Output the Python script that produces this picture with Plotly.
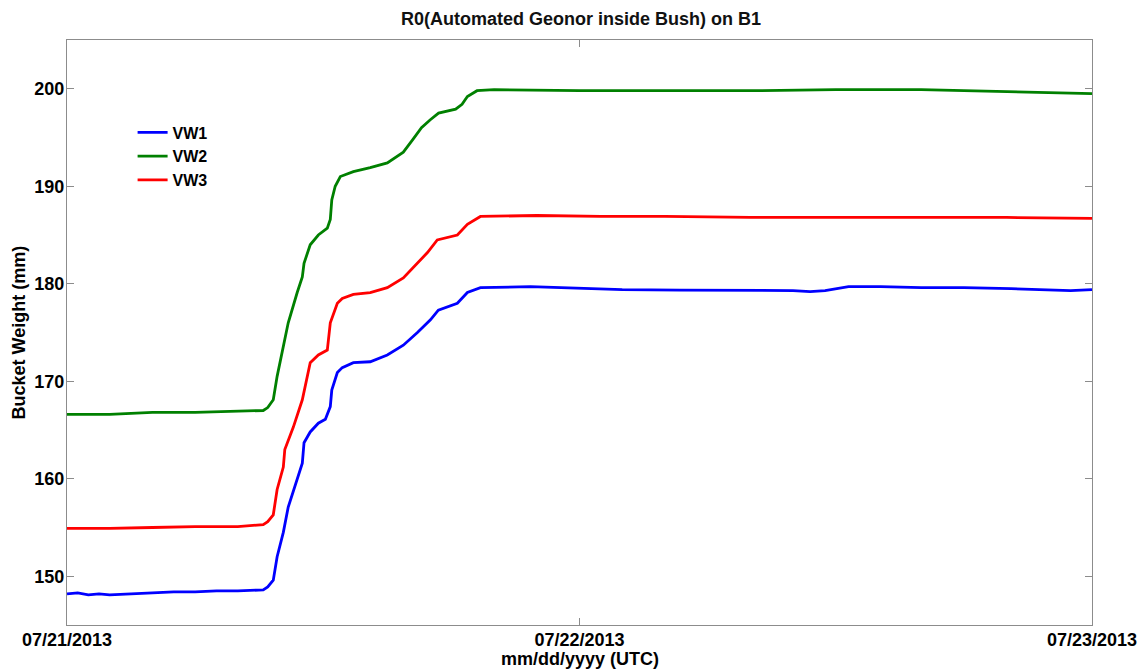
import plotly.graph_objects as go
import pandas as pd

start = pd.Timestamp("2013-07-21 00:00")

# hours since 07/21/2013 00:00 UTC and bucket weights (mm)
vw1_hours = [0, 0.5, 1, 1.5, 2, 3, 4, 5, 6, 7, 8, 9.19, 9.4, 9.66, 9.84, 10.13, 10.36, 10.78, 11.02, 11.1, 11.39,
             11.77, 12.1, 12.33, 12.4, 12.66, 12.89, 13.41, 14.2, 15.0, 15.75, 16.41, 17.02, 17.39, 18.28, 18.75,
             19.36, 21.7, 23, 25, 26, 28.7, 30.9, 32, 34.0, 34.8, 35.5, 36.6, 38.1, 40, 42, 44.2, 46, 47, 48]
vw1 = [148.2, 148.3, 148.1, 148.2, 148.1, 148.2, 148.3, 148.4, 148.4, 148.5, 148.5, 148.6, 148.9, 149.6, 152.0,
       154.5, 157.1, 159.9, 161.6, 163.7, 164.8, 165.7, 166.1, 167.4, 169.1, 170.9, 171.4, 171.9, 172.0, 172.7,
       173.7, 175.0, 176.3, 177.3, 178.0, 179.1, 179.6, 179.7, 179.6, 179.5, 179.4, 179.35, 179.3, 179.3, 179.3,
       179.2, 179.3, 179.7, 179.7, 179.6, 179.6, 179.5, 179.4, 179.3, 179.4]

vw2_hours = [0, 2, 3, 4, 6, 8, 9.19, 9.4, 9.66, 9.84, 10.13, 10.36, 10.78, 11.02, 11.1, 11.39, 11.77, 12.19,
             12.33, 12.4, 12.56, 12.8, 13.41, 14.2, 15.0, 15.75, 16.2, 16.6, 17.0, 17.4, 18.2, 18.5, 18.75, 19.2,
             20, 24, 28, 32, 36, 38, 40, 42, 44.2, 46, 48]
vw2 = [166.6, 166.6, 166.7, 166.8, 166.8, 166.9, 167.0, 167.3, 168.1, 170.5, 173.5, 176.0, 179.1, 180.7, 182.1,
       184.0, 185.0, 185.7, 186.6, 188.6, 190.0, 191.0, 191.5, 191.9, 192.4, 193.5, 194.8, 196.0, 196.8, 197.5,
       197.9, 198.4, 199.2, 199.8, 199.9, 199.8, 199.8, 199.8, 199.9, 199.9, 199.9, 199.8, 199.7, 199.6, 199.5]

vw3_hours = [0, 2, 4, 6, 8, 9.19, 9.4, 9.66, 9.84, 10.13, 10.2, 10.6, 11.02, 11.39, 11.77, 12.19, 12.33, 12.66,
             12.89, 13.41, 14.2, 15.0, 15.75, 16.22, 16.88, 17.34, 18.28, 18.75, 19.36, 22, 25, 28, 32, 36, 40,
             44, 48]
vw3 = [154.9, 154.9, 155.0, 155.1, 155.1, 155.3, 155.6, 156.3, 158.9, 161.2, 163.0, 165.3, 168.1, 171.9, 172.7,
       173.2, 176.0, 178.0, 178.5, 178.9, 179.1, 179.6, 180.6, 181.7, 183.2, 184.5, 185.0, 186.1, 186.9, 187.0,
       186.9, 186.9, 186.8, 186.8, 186.8, 186.8, 186.7]

series = [("VW1", vw1_hours, vw1, "#0000FF"),
          ("VW2", vw2_hours, vw2, "#008000"),
          ("VW3", vw3_hours, vw3, "#FF0000")]

tick_text = ["07/21/2013", "07/22/2013", "07/23/2013"]
y_ticks = [150, 160, 170, 180, 190, 200]

FONT = "Liberation Sans, Arial, Helvetica"

fig = go.Figure()
for name, hrs, vals, col in series:
    xs = [start + pd.Timedelta(hours=h) for h in hrs]
    fig.add_trace(go.Scatter(x=xs, y=vals, mode="lines", name=name,
                             line=dict(color=col, width=2.8)))

tick_vals = [start + pd.Timedelta(days=i) for i in range(len(tick_text))]

axis_common = dict(showline=True, linecolor="#8c8c8c", linewidth=1.2, mirror="ticks",
                   ticks="inside", ticklen=7, tickcolor="#8c8c8c", showgrid=False, zeroline=False,
                   automargin=False)

fig.update_layout(
    width=1146, height=670,
    paper_bgcolor="white", plot_bgcolor="white",
    margin=dict(l=59, r=62, t=32, b=53),
    title=dict(text="<b>R0(Automated Geonor inside Bush) on B1</b>", x=0.5, xanchor="center",
               y=0.984, yanchor="middle",
               font=dict(family=FONT, size=18, color="#111")),
    xaxis=dict(range=[tick_vals[0], tick_vals[-1]], tickvals=tick_vals, ticktext=tick_text,
               tickfont=dict(family=FONT, size=18, color="black", weight="bold"),
               ticklabelstandoff=-2,
               **axis_common),
    yaxis=dict(range=[145, 205], tickvals=y_ticks,
               tickfont=dict(family=FONT, size=18, color="black", weight="bold"),
               ticklabelstandoff=-2,
               **axis_common),
    legend=dict(x=0.064, y=0.871, xanchor="left", yanchor="top", bgcolor="rgba(0,0,0,0)",
                font=dict(family=FONT, size=16, color="black", weight="bold"),
                tracegroupgap=0, itemwidth=30),
    showlegend=True,
    annotations=[
        dict(text="<b>mm/dd/yyyy (UTC)</b>", xref="paper", yref="paper", x=0.5, y=0,
             xanchor="center", yanchor="middle", yshift=-34, showarrow=False,
             font=dict(family=FONT, size=18, color="black")),
        dict(text="<b>Bucket Weight (mm)</b>", xref="paper", yref="paper", x=0, y=0.5,
             xanchor="center", yanchor="middle", xshift=-49, textangle=-90, showarrow=False,
             font=dict(family=FONT, size=18, color="black")),
    ],
)

fig.write_html("out.html")
